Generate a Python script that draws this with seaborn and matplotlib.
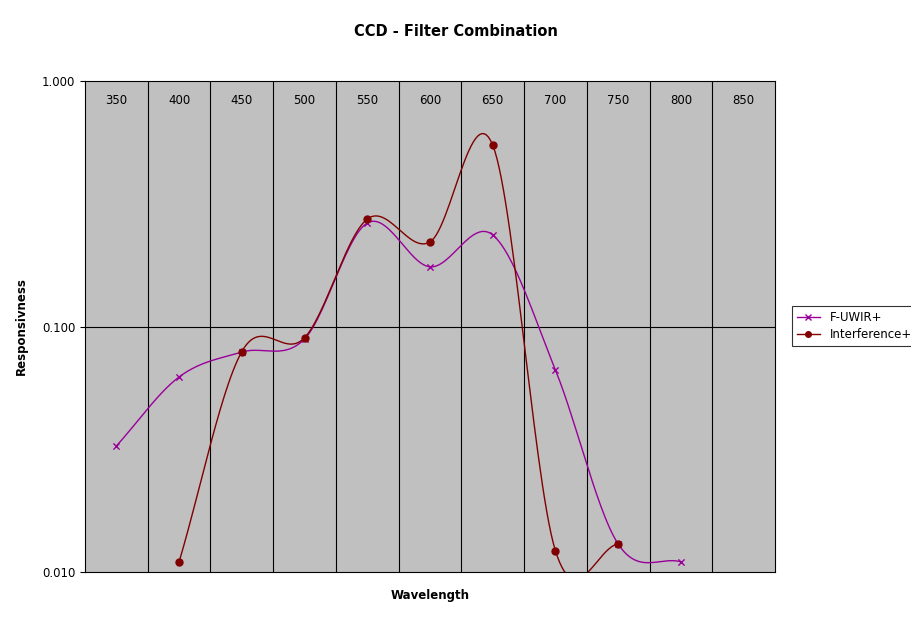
import numpy as np
import pandas as pd
import matplotlib
matplotlib.use("Agg")
import matplotlib.pyplot as plt
import seaborn as sns
from matplotlib.lines import Line2D

# Data
categories = [350, 400, 450, 500, 550, 600, 650, 700, 750, 800, 850]
uwir_wl = [350, 400, 450, 500, 550, 600, 650, 700, 750, 800]
uwir_vals = [0.0326, 0.0623, 0.0787, 0.089, 0.264, 0.175, 0.236, 0.0665, 0.013, 0.011]
interf_wl = [400, 450, 500, 550, 600, 650, 700, 750]
interf_vals = [0.011, 0.079, 0.09, 0.274, 0.221, 0.548, 0.0122, 0.013]

purple = "#990099"
red = "#800000"


def smooth(xs, ys, n=30):
    # Catmull-Rom curve through points in (index, log y) space, like Excel smoothing
    px = np.array(xs, float)
    py = np.log10(np.array(ys, float))
    px = np.concatenate([[2 * px[0] - px[1]], px, [2 * px[-1] - px[-2]]])
    py = np.concatenate([[2 * py[0] - py[1]], py, [2 * py[-1] - py[-2]]])
    outx, outy = [], []
    for i in range(1, len(px) - 2):
        t = np.linspace(0, 1, n)
        for arr, out in ((px, outx), (py, outy)):
            p0, p1, p2, p3 = arr[i - 1:i + 3]
            out.extend(0.5 * (2 * p1 + (-p0 + p2) * t + (2 * p0 - 5 * p1 + 4 * p2 - p3) * t ** 2
                              + (-p0 + 3 * p1 - 3 * p2 + p3) * t ** 3))
    return np.array(outx), 10 ** np.array(outy)


fig = plt.figure(figsize=(9.11, 6.23), dpi=100)
ax = fig.add_axes([85 / 911, 51 / 623, 690 / 911, 491 / 623])
ax.set_facecolor("#C0C0C0")

ax.set_yscale("log")
ax.set_xlim(-0.5, len(categories) - 0.5)
ax.set_ylim(0.01, 1.0)

for i in range(1, len(categories)):
    ax.axvline(i - 0.5, color="black", lw=0.8)
ax.axhline(0.1, color="black", lw=0.8)

for wl, vals, col, mk, ms in ((uwir_wl, uwir_vals, purple, "x", 4), (interf_wl, interf_vals, red, "o", 5)):
    idx = [categories.index(w) for w in wl]
    sx, sy = smooth(idx, vals)
    ax.plot(sx, sy, color=col, lw=1)
    df = pd.DataFrame({"x": idx, "y": vals})
    sns.scatterplot(data=df, x="x", y="y", ax=ax, color=col, marker=mk, s=ms * 5,
                    edgecolor=col, linewidth=1, zorder=5)

for i, c in enumerate(categories):
    ax.text(i, 0.96, str(c), transform=ax.get_xaxis_transform(), ha="center", va="center", fontsize=8.5)

ax.set_xticks([])
ax.set_yticks([0.01, 0.1, 1.0])
ax.set_yticklabels(["0.010", "0.100", "1.000"], fontsize=8.5)
ax.yaxis.set_minor_locator(matplotlib.ticker.NullLocator())
ax.set_xlabel("Wavelength", fontsize=8.5, fontweight="bold", labelpad=12)
ax.set_ylabel("Responsivness", fontsize=8.5, fontweight="bold", labelpad=10)
for s in ax.spines.values():
    s.set_color("black")

fig.text(456 / 911, 1 - 31 / 623, "CCD - Filter Combination", ha="center", va="center", fontsize=10.5, fontweight="bold")

handles = [Line2D([], [], color=purple, marker="x", ms=4, lw=1),
           Line2D([], [], color=red, marker="o", ms=4, lw=1)]
leg = fig.legend(handles, ["F-UWIR+", "Interference+"], loc="center left",
                 bbox_to_anchor=(786 / 911, 1 - 326 / 623), fontsize=8.5, frameon=True,
                 fancybox=False, edgecolor="black", handlelength=2, borderpad=0.4, labelspacing=0.4)
leg.get_frame().set_linewidth(0.8)

fig.savefig("out.png", dpi=100)
